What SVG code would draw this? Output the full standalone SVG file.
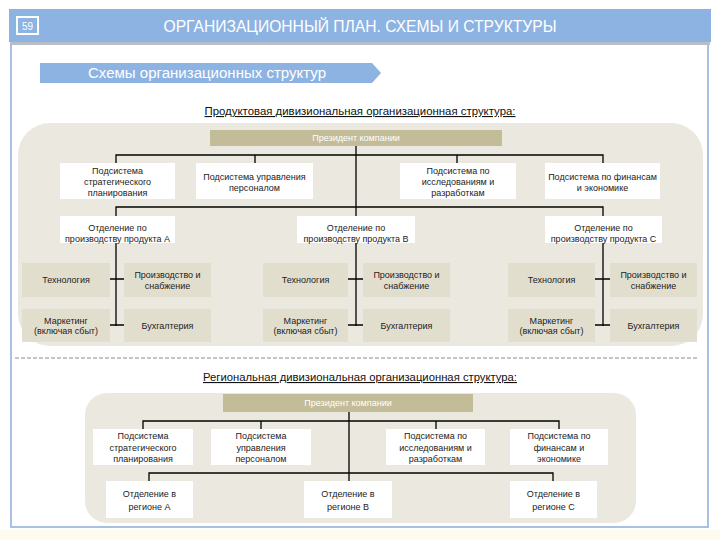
<svg xmlns="http://www.w3.org/2000/svg" width="720" height="540" viewBox="0 0 720 540">
<defs>
<style>
.t{font-family:"Liberation Sans","DejaVu Sans",sans-serif;font-size:9px;fill:#222;text-anchor:middle}
.w{fill:#ffffff;stroke:none}
.b{fill:#e2dece;stroke:none}
.p{fill:#c3bc98}
.pt{font-family:"Liberation Sans","DejaVu Sans",sans-serif;font-size:9px;fill:#fff;text-anchor:middle}
.ln{stroke:#000;stroke-width:1.3;fill:none}
.h{font-family:"Liberation Sans","DejaVu Sans",sans-serif;font-size:11px;fill:#111;text-anchor:middle;text-decoration:underline}
</style>
</defs>
<rect x="0" y="0" width="720" height="540" fill="#fff"/>
<rect x="0" y="530" width="720" height="10" fill="#fdfbef"/>
<!-- frame -->
<rect x="11" y="43" width="697" height="484" fill="#fff" stroke="#a9c0e2" stroke-width="2"/>
<rect x="10" y="42" width="700" height="3" fill="#b9bec6"/>
<!-- header -->
<g id="header">
<rect x="9" y="9" width="702" height="33" fill="#8db3e2"/>
<rect x="17" y="17" width="21" height="17" fill="none" stroke="#fff" stroke-width="2"/>
<text x="27.5" y="30" font-family="Liberation Sans, sans-serif" font-size="10" fill="#fff" text-anchor="middle">59</text>
<text x="360" y="31.5" font-family="Liberation Sans, sans-serif" font-size="16" fill="#fff" text-anchor="middle" textLength="393" lengthAdjust="spacingAndGlyphs">ОРГАНИЗАЦИОННЫЙ ПЛАН. СХЕМЫ И СТРУКТУРЫ</text>
</g>
<g id="banner">
<polygon points="40,63 372,63 381,73 372,83 40,83" fill="#8db3e2"/>
<text x="207" y="78" font-family="Liberation Sans, sans-serif" font-size="14" fill="#fff" text-anchor="middle" textLength="238" lengthAdjust="spacingAndGlyphs">Схемы организационных структур</text>
</g>
<text class="h" x="360" y="115" textLength="311" lengthAdjust="spacingAndGlyphs">Продуктовая дивизиональная организационная структура:</text>
<!-- top panel -->
<rect x="18" y="123" width="685" height="223" rx="32" fill="#ebe8df"/>
<!-- connectors top -->
<g id="connectors">
<path class="ln" d="M356,146 V326 M116,163 V155 H603 V163 M255,155 V163 M457,155 V163 M116,216 V207 H603 V216"/>
<path class="ln" d="M116,243 V326 M108,279 H124 M108,325 H124"/>
<path class="ln" d="M348,279 H363 M348,325 H363"/>
<path class="ln" d="M603,243 V326 M595,279 H610 M595,325 H610"/>
</g>
<g id="pres1"><rect class="p" x="210" y="130" width="292" height="16"/><text class="pt" x="356" y="141">Президент компании</text></g>
<g id="s1"><rect class="w" x="60" y="163" width="115" height="36"/><text class="t" x="117.5" y="173.5">Подсистема</text><text class="t" x="117.5" y="184.5">стратегического</text><text class="t" x="117.5" y="195.5">планирования</text></g>
<g id="s2"><rect class="w" x="196" y="163" width="117" height="36"/><text class="t" x="254.5" y="180">Подсистема управления</text><text class="t" x="254.5" y="191">персоналом</text></g>
<g id="s3"><rect class="w" x="400" y="163" width="116" height="36"/><text class="t" x="458" y="173.5">Подсистема по</text><text class="t" x="458" y="184.5">исследованиям и</text><text class="t" x="458" y="195.5">разработкам</text></g>
<g id="s4"><rect class="w" x="545" y="163" width="115" height="36"/><text class="t" x="602.5" y="180">Подсистема по финансам</text><text class="t" x="602.5" y="191">и экономике</text></g>
<g id="dA"><rect class="w" x="60" y="216" width="115" height="27"/><text class="t" x="117.5" y="231">Отделение по</text><text class="t" x="117.5" y="242">производству продукта А</text></g>
<g id="dB"><rect class="w" x="297" y="216" width="118" height="27"/><text class="t" x="356" y="231">Отделение по</text><text class="t" x="356" y="242">производству продукта В</text></g>
<g id="dC"><rect class="w" x="545" y="216" width="117" height="27"/><text class="t" x="603.5" y="231">Отделение по</text><text class="t" x="603.5" y="242">производству продукта С</text></g>
<!-- group A -->
<g id="aT"><rect class="b" x="22" y="263" width="88" height="34"/><text class="t" x="66" y="282.5">Технология</text></g>
<g id="aP"><rect class="b" x="124" y="263" width="87" height="34"/><text class="t" x="167.5" y="277.5">Производство и</text><text class="t" x="167.5" y="288.5">снабжение</text></g>
<g id="aM"><rect class="b" x="22" y="309" width="88" height="33"/><text class="t" x="66" y="323.5">Маркетинг</text><text class="t" x="66" y="334">(включая сбыт)</text></g>
<g id="aB"><rect class="b" x="124" y="309" width="87" height="33"/><text class="t" x="167.5" y="328.5">Бухгалтерия</text></g>
<!-- group B -->
<g id="bT"><rect class="b" x="263" y="263" width="85" height="34"/><text class="t" x="305.5" y="282.5">Технология</text></g>
<g id="bP"><rect class="b" x="363" y="263" width="87" height="34"/><text class="t" x="406.5" y="277.5">Производство и</text><text class="t" x="406.5" y="288.5">снабжение</text></g>
<g id="bM"><rect class="b" x="263" y="309" width="85" height="33"/><text class="t" x="305.5" y="323.5">Маркетинг</text><text class="t" x="305.5" y="334">(включая сбыт)</text></g>
<g id="bB"><rect class="b" x="363" y="309" width="87" height="33"/><text class="t" x="406.5" y="328.5">Бухгалтерия</text></g>
<!-- group C -->
<g id="cT"><rect class="b" x="508" y="263" width="87" height="34"/><text class="t" x="551.5" y="282.5">Технология</text></g>
<g id="cP"><rect class="b" x="610" y="263" width="87" height="34"/><text class="t" x="653.5" y="277.5">Производство и</text><text class="t" x="653.5" y="288.5">снабжение</text></g>
<g id="cM"><rect class="b" x="508" y="309" width="87" height="33"/><text class="t" x="551.5" y="323.5">Маркетинг</text><text class="t" x="551.5" y="334">(включая сбыт)</text></g>
<g id="cB"><rect class="b" x="610" y="309" width="87" height="33"/><text class="t" x="653.5" y="328.5">Бухгалтерия</text></g>
<line x1="15" y1="358" x2="698" y2="358" stroke="#8a8a8a" stroke-width="1" stroke-dasharray="4,2"/>
<text class="h" x="360" y="381" textLength="314" lengthAdjust="spacingAndGlyphs">Региональная дивизиональная организационная структура:</text>
<!-- bottom panel -->
<rect x="85" y="393" width="551" height="130" rx="22" fill="#ebe8df"/>
<g id="connectors2">
<path class="ln" d="M349,412 V482 M143,429 V421 H559 V429 M261,421 V429 M436,421 V429 M149,481 V473 H553 V481"/>
</g>
<g id="pres2"><rect class="p" x="223" y="394" width="250" height="18"/><text class="pt" x="348" y="406">Президент компании</text></g>
<g id="r1"><rect class="w" x="93" y="429" width="100" height="36"/><text class="t" x="143" y="438.5">Подсистема</text><text class="t" x="143" y="450.5">стратегического</text><text class="t" x="143" y="462">планирования</text></g>
<g id="r2"><rect class="w" x="211" y="429" width="100" height="36"/><text class="t" x="261" y="438.5">Подсистема</text><text class="t" x="261" y="450.5">управления</text><text class="t" x="261" y="462">персоналом</text></g>
<g id="r3"><rect class="w" x="386" y="429" width="99" height="36"/><text class="t" x="435.5" y="438.5">Подсистема по</text><text class="t" x="435.5" y="450.5">исследованиям и</text><text class="t" x="435.5" y="462">разработкам</text></g>
<g id="r4"><rect class="w" x="510" y="429" width="98" height="36"/><text class="t" x="559" y="438.5">Подсистема по</text><text class="t" x="559" y="450.5">финансам и</text><text class="t" x="559" y="462">экономике</text></g>
<g id="gA"><rect class="w" x="106" y="481" width="87" height="37"/><text class="t" x="149.5" y="497">Отделение в</text><text class="t" x="149.5" y="509.5">регионе А</text></g>
<g id="gB"><rect class="w" x="304" y="481" width="88" height="37"/><text class="t" x="348" y="497">Отделение в</text><text class="t" x="348" y="509.5">регионе  В</text></g>
<g id="gC"><rect class="w" x="510" y="481" width="87" height="37"/><text class="t" x="553.5" y="497">Отделение в</text><text class="t" x="553.5" y="509.5">регионе  С</text></g>
</svg>
